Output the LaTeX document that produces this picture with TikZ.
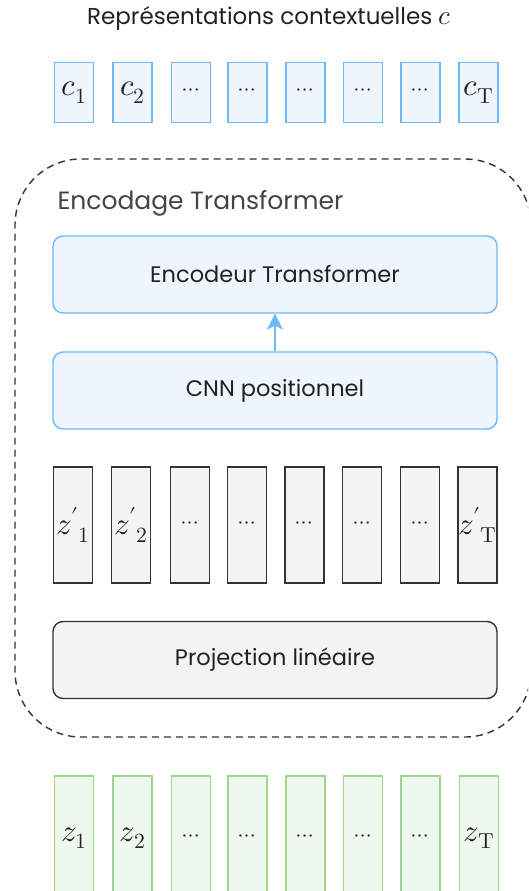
\documentclass[tikz,border=0pt]{standalone}
\usepackage{fontspec}
\usepackage{unicode-math}
\setmainfont{Poppins}
\setmathfont{Latin Modern Math}
\usetikzlibrary{arrows.meta}

\definecolor{bluedraw}{HTML}{6DB9F9}
\definecolor{bluefill}{HTML}{EEF5FC}
\definecolor{greendraw}{HTML}{9ED68A}
\definecolor{greenfill}{HTML}{EFF8EE}
\definecolor{graydraw}{HTML}{333333}
\definecolor{grayfill}{HTML}{F4F4F4}
\definecolor{inktext}{HTML}{222222}
\definecolor{labeltext}{HTML}{444444}

\newcommand{\tokdots}{{\fontsize{22}{24}\selectfont$\cdots$}}

\begin{document}
\begin{tikzpicture}[x=1pt,y=-1pt,
  token/.style={rectangle, minimum width=39pt, inner sep=0pt, line width=1.5pt,
                text=inktext, font=\fontsize{31}{34}\selectfont},
  ctoken/.style={token, draw=bluedraw, fill=bluefill, minimum height=60pt},
  ztoken/.style={token, draw=graydraw, fill=grayfill, minimum height=116pt, line width=1.4pt},
  xtoken/.style={token, draw=greendraw, fill=greenfill, minimum height=124pt},
  block/.style={rectangle, rounded corners=10pt, minimum width=444pt, minimum height=77pt,
                inner sep=0pt, line width=1.4pt, text=inktext, font=\fontsize{22.5}{26}\selectfont},
  blueblock/.style={block, draw=bluedraw, fill=bluefill},
  grayblock/.style={block, draw=graydraw, fill=grayfill},
  groupframe/.style={draw=graydraw, line width=1.4pt, dash pattern=on 7pt off 5pt},
  flow/.style={draw=bluedraw, line width=1.5pt, -{Stealth[length=16pt, width=16pt, inset=4pt]}}
]
\useasboundingbox (0,0) rectangle (528,891);
\clip (0,0) rectangle (528,891);

% title
\node[text=inktext, font=\fontsize{23}{26}\selectfont] (title) at (269,18)
  {Représentations contextuelles \fontsize{27}{29}\selectfont$c$};

% contextual representations c
\node[ctoken] (c1) at (74,92.5) {$c_1$};
\node[ctoken] (c2) at (132.5,92.5) {$c_2$};
\node[ctoken] (c3) at (191,92.5) {\tokdots};
\node[ctoken] (c4) at (247.5,92.5) {\tokdots};
\node[ctoken] (c5) at (305.5,92.5) {\tokdots};
\node[ctoken] (c6) at (363,92.5) {\tokdots};
\node[ctoken] (c7) at (420.5,92.5) {\tokdots};
\node[ctoken] (c8) at (478.5,92.5) {$c_{\symup{T}}$};

% dashed group frame; its right side runs past the page edge
\draw[groupframe] (531,225)
  arc[start angle=0, end angle=90, radius=66pt] -- (81,159)
  arc[start angle=90, end angle=180, radius=66pt] -- (15,671)
  arc[start angle=180, end angle=270, radius=66pt] -- (465,737)
  arc[start angle=270, end angle=360, radius=66pt];
\node[anchor=base west, text=labeltext, font=\fontsize{25}{28}\selectfont] (grouplabel) at (54,209)
  {Encodage Transformer};

% encoder blocks
\node[blueblock] (enc) at (275,274.5) {Encodeur Transformer};
\node[blueblock] (cnn) at (275,390.5) {CNN positionnel};
\draw[flow] (cnn) -- (enc);

% projected features z'
\node[ztoken] (p1) at (73,525) {${z'}_1$};
\node[ztoken] (p2) at (131,525) {${z'}_2$};
\node[ztoken] (p3) at (190,525) {\tokdots};
\node[ztoken] (p4) at (247,525) {\tokdots};
\node[ztoken] (p5) at (304.5,525) {\tokdots};
\node[ztoken] (p6) at (362,525) {\tokdots};
\node[ztoken] (p7) at (420,525) {\tokdots};
\node[ztoken] (p8) at (477.5,525) {${z'}_{\symup{T}}$};

\node[grayblock] (proj) at (275,660) {Projection linéaire};

% latent features z
\node[xtoken] (z1) at (74,838) {$z_1$};
\node[xtoken] (z2) at (132.5,838) {$z_2$};
\node[xtoken] (z3) at (191,838) {\tokdots};
\node[xtoken] (z4) at (247.5,838) {\tokdots};
\node[xtoken] (z5) at (305.5,838) {\tokdots};
\node[xtoken] (z6) at (363,838) {\tokdots};
\node[xtoken] (z7) at (420.5,838) {\tokdots};
\node[xtoken] (z8) at (479,838) {$z_{\symup{T}}$};
\end{tikzpicture}
\end{document}
